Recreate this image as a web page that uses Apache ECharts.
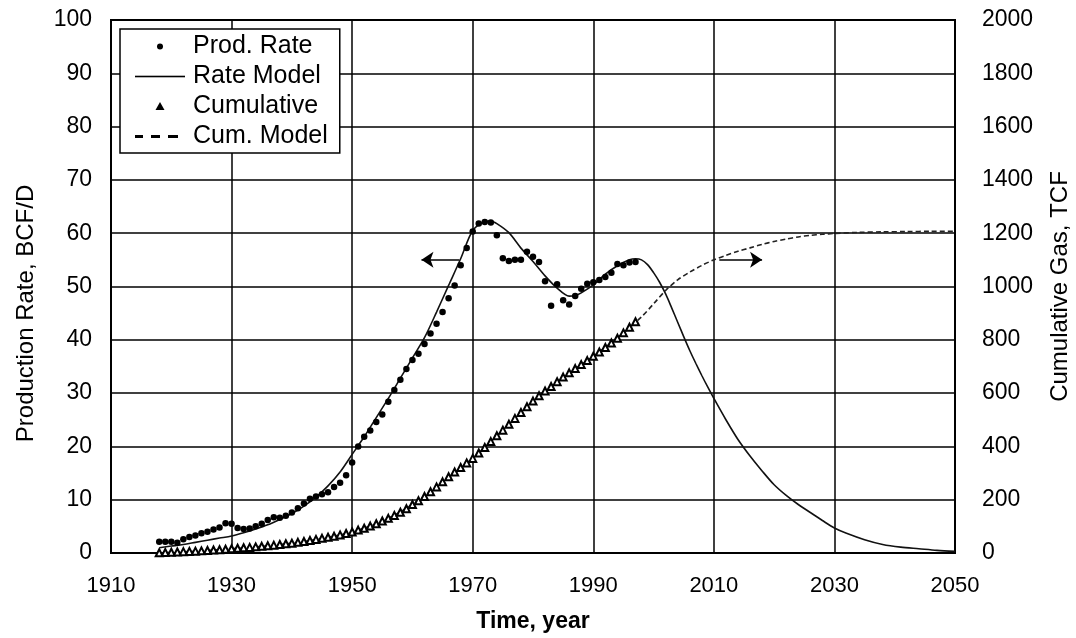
<!DOCTYPE html>
<html>
<head>
<meta charset="utf-8">
<script src="https://cdn.jsdelivr.net/npm/echarts@6/dist/echarts.min.js"></script>
<style>
  html, body { margin: 0; padding: 0; background: #fff; }
  #chart { width: 1076px; height: 638px; }
</style>
</head>
<body>
<div id="chart"></div>
<script>
// ---------- DATA ----------
const xTicks = [1910, 1930, 1950, 1970, 1990, 2010, 2030, 2050];
const leftTicks = [0, 10, 20, 30, 40, 50, 60, 70, 80, 90, 100];
const rightTicks = [0, 200, 400, 600, 800, 1000, 1200, 1400, 1600, 1800, 2000];

// Production rate data (BCF/D), 1918..1997
const rateYears = [1918,1919,1920,1921,1922,1923,1924,1925,1926,1927,1928,1929,1930,1931,1932,1933,1934,1935,1936,1937,1938,1939,1940,1941,1942,1943,1944,1945,1946,1947,1948,1949,1950,1951,1952,1953,1954,1955,1956,1957,1958,1959,1960,1961,1962,1963,1964,1965,1966,1967,1968,1969,1970,1971,1972,1973,1974,1975,1976,1977,1978,1979,1980,1981,1982,1983,1984,1985,1986,1987,1988,1989,1990,1991,1992,1993,1994,1995,1996,1997];
const rateValues = [2.1,2.1,2.1,1.9,2.6,3.0,3.3,3.7,4.0,4.4,4.8,5.6,5.5,4.7,4.5,4.6,5.0,5.5,6.2,6.7,6.6,7.0,7.6,8.4,9.3,10.2,10.6,11.0,11.4,12.4,13.2,14.6,17.0,20.0,21.8,23.0,24.6,26.0,28.4,30.6,32.5,34.5,36.2,37.4,39.2,41.2,43.0,45.2,47.8,50.2,54.0,57.2,60.3,61.8,62.1,62.0,59.6,55.3,54.8,55.0,55.0,56.5,55.6,54.6,51.0,46.4,50.4,47.4,46.6,48.2,49.6,50.5,50.8,51.2,51.8,52.6,54.2,54.0,54.5,54.6];

// Rate model (BCF/D)
const modelYears = [1918,1920,1922,1924,1926,1928,1930,1932,1934,1936,1938,1940,1942,1944,1946,1948,1950,1952,1954,1956,1958,1960,1962,1964,1966,1968,1970,1972,1973,1974,1976,1978,1980,1982,1984,1986,1987,1988,1990,1992,1994,1996,1997,1998,1999,2000,2001,2002,2003,2004,2005,2006,2007,2008,2009,2010,2012,2014,2016,2018,2020,2022,2024,2026,2028,2030,2032,2035,2038,2041,2044,2047,2050];
const modelValues = [1.0,1.3,1.6,2.0,2.4,2.8,3.2,3.8,4.5,5.3,6.3,7.4,8.8,10.5,12.6,15.2,18.5,21.8,25.4,29.0,32.8,36.6,40.4,45.2,50.2,55.2,60.5,62.2,62.3,61.8,60.1,57.2,54.7,52.0,49.7,48.2,48.3,48.8,50.3,52.3,53.9,55.0,55.2,55.0,54.1,52.6,50.8,48.6,46.0,43.3,40.6,38.0,35.6,33.3,31.1,29.0,25.0,21.3,18.2,15.4,12.8,10.8,9.1,7.6,6.1,4.7,3.7,2.5,1.6,1.1,0.8,0.5,0.3];

// Cumulative gas data (TCF), 1918..1997
const cumYears = rateYears;
const cumValues = [1,2,3,4,5,6,7,8,9.5,11,12,14,16,18,19.5,21,23,25,27,29.5,32,34.5,37,40,43,47,51,55,59,63,68,73,79,86,93,101,110,120,130,141,153,166,182,196,212,230,248,267,286,304,321,338,355,375,396,418,440,461,483,505,527,549,570,590,608,625,643,660,676,692,707,722,738,754,771,788,806,826,847,868];

// Cumulative model (TCF)
const cumModelYears = [1918,1925,1930,1935,1940,1945,1950,1955,1960,1965,1970,1975,1980,1985,1990,1995,1998,2000,2002,2004,2006,2008,2010,2012,2014,2016,2018,2020,2022,2024,2026,2028,2030,2034,2038,2042,2046,2050];
const cumModelValues = [0,8,16,25,37,55,79,120,182,267,355,461,570,660,738,826,886,935,985,1025,1054,1079,1100,1117,1132,1145,1158,1169,1178,1186,1192,1196,1199,1203,1205,1206,1207,1207];

// Annotation arrows
const leftArrow = { from: [1967.8, 55], to: [1961.5, 55] };
const rightArrow = { from: [2010.9, 1100], to: [2018.0, 1100] };

// ---------- BUILD ----------
const pairs = (xs, ys) => xs.map((x, i) => [x, ys[i]]);
const FONT = "'Liberation Sans', Arial, sans-serif";
const plain = v => String(v);

function svgIcon(inner) {
  return 'image://data:image/svg+xml;charset=utf-8,' + encodeURIComponent(
    '<svg xmlns="http://www.w3.org/2000/svg" width="50" height="14" viewBox="0 0 50 14">' + inner + '</svg>');
}
const iconDot = svgIcon('<circle cx="25" cy="7" r="3" fill="#000"/>');
const iconLine = svgIcon('<rect x="0" y="6.2" width="50" height="1.6" fill="#000"/>');
const iconTri = svgIcon('<polygon points="25,2.5 29.5,10.5 20.5,10.5" fill="#000"/>');
const iconDash = svgIcon('<rect x="0" y="5.5" width="8" height="3" fill="#000"/><rect x="16" y="5.5" width="9" height="3" fill="#000"/><rect x="33" y="5.5" width="10" height="3" fill="#000"/>');

const chart = echarts.init(document.getElementById('chart'), null, { renderer: 'canvas' });

const option = {
  animation: false,
  backgroundColor: '#fff',
  textStyle: { fontFamily: FONT },
  grid: { left: 111, right: 121, top: 20, bottom: 85, show: true, borderColor: '#000', borderWidth: 2,
          backgroundColor: 'transparent', containLabel: false, outerBoundsMode: 'none' },
  legend: {
    orient: 'vertical', left: 120, top: 29,
    padding: [5, 12, 4, 15],
    itemWidth: 50, itemHeight: 14, itemGap: 5,
    borderColor: '#000', borderWidth: 1.5, backgroundColor: '#fff',
    selectedMode: false,
    textStyle: { fontSize: 25, lineHeight: 25, color: '#000', fontFamily: FONT, padding: [0, 0, 0, 3] },
    data: [
      { name: 'Prod. Rate', icon: iconDot },
      { name: 'Rate Model', icon: iconLine },
      { name: 'Cumulative', icon: iconTri },
      { name: 'Cum. Model', icon: iconDash }
    ]
  },
  xAxis: {
    type: 'value', min: xTicks[0], max: xTicks[xTicks.length - 1], interval: 20,
    name: 'Time, year', nameLocation: 'middle', nameGap: 57,
    nameTextStyle: { fontSize: 23, fontWeight: 'bold', color: '#000', fontFamily: FONT },
    axisLine: { show: true, lineStyle: { color: '#000', width: 2 } },
    axisTick: { show: false },
    axisLabel: { fontSize: 22, color: '#000', margin: 22, fontFamily: FONT, formatter: plain },
    splitLine: { show: true, lineStyle: { color: '#000', width: 1.5 } }
  },
  yAxis: [
    {
      type: 'value', min: leftTicks[0], max: leftTicks[leftTicks.length - 1], interval: 10,
      position: 'left',
      name: 'Production Rate, BCF/D', nameLocation: 'middle', nameGap: 73, nameRotate: 90,
      nameTextStyle: { fontSize: 24, color: '#000', fontFamily: FONT, padding: [0, 54, 0, 0] },
      axisLine: { show: true, lineStyle: { color: '#000', width: 2 } },
      axisTick: { show: false },
      axisLabel: { fontSize: 23, color: '#000', margin: 19, fontFamily: FONT, formatter: plain },
      splitLine: { show: true, lineStyle: { color: '#000', width: 1.5 } }
    },
    {
      type: 'value', min: rightTicks[0], max: rightTicks[rightTicks.length - 1], interval: 200,
      position: 'right',
      name: 'Cumulative Gas, TCF', nameLocation: 'middle', nameGap: 93, nameRotate: 90,
      nameTextStyle: { fontSize: 24, color: '#000', fontFamily: FONT },
      axisLine: { show: true, lineStyle: { color: '#000', width: 2 } },
      axisTick: { show: false },
      axisLabel: { fontSize: 23, color: '#000', margin: 27, fontFamily: FONT, formatter: plain },
      splitLine: { show: false }
    }
  ],
  series: [
    {
      name: 'Cum. Model', type: 'line', yAxisIndex: 1, smooth: 0.3,
      data: pairs(cumModelYears, cumModelValues),
      showSymbol: false, symbol: 'none',
      lineStyle: { color: '#222', width: 1.6, type: [5, 3] },
      z: 3,
      markLine: {
        silent: true, symbol: ['none', 'arrow'], symbolSize: [12, 12],
        label: { show: false },
        lineStyle: { color: '#000', width: 1.5, type: 'solid' },
        data: [[{ coord: rightArrow.from }, { coord: rightArrow.to }]]
      }
    },
    {
      name: 'Cumulative', type: 'scatter', yAxisIndex: 1,
      data: pairs(cumYears, cumValues),
      symbol: 'emptyTriangle', symbolSize: 7,
      itemStyle: { color: '#000', borderColor: '#000', borderWidth: 1.3, opacity: 1 },
      z: 4
    },
    {
      name: 'Rate Model', type: 'line', yAxisIndex: 0, smooth: 0.3,
      data: pairs(modelYears, modelValues),
      showSymbol: false, symbol: 'none',
      lineStyle: { color: '#111', width: 1.6 },
      z: 5
    },
    {
      name: 'Prod. Rate', type: 'scatter', yAxisIndex: 0,
      data: pairs(rateYears, rateValues),
      symbol: 'circle', symbolSize: 6.5,
      itemStyle: { color: '#000', opacity: 1 },
      z: 6,
      markLine: {
        silent: true, symbol: ['none', 'arrow'], symbolSize: [12, 12],
        label: { show: false },
        lineStyle: { color: '#000', width: 1.5, type: 'solid' },
        data: [[{ coord: leftArrow.from }, { coord: leftArrow.to }]]
      }
    }
  ]
};
chart.setOption(option);
</script>
</body>
</html>
